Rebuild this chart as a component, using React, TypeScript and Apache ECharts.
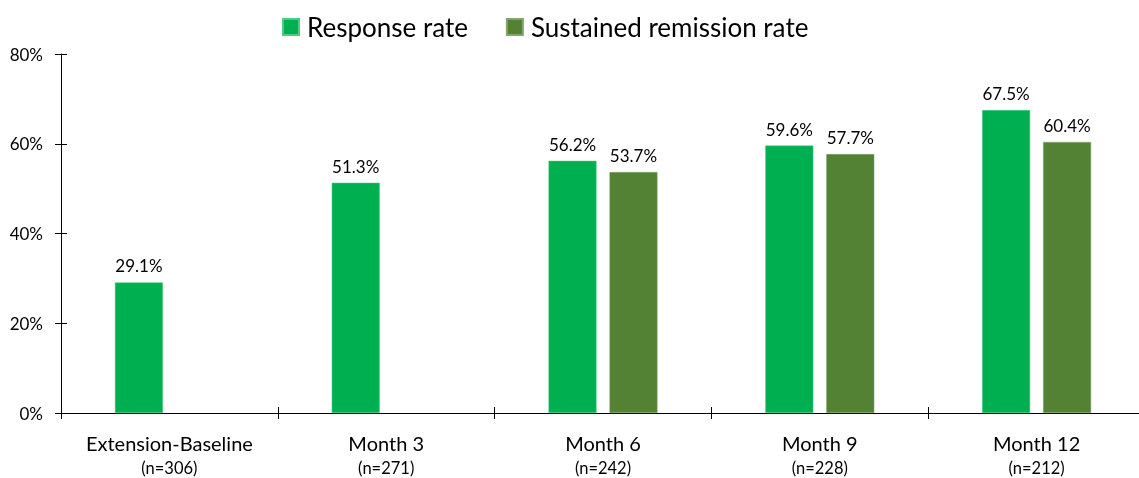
import React, { useEffect, useRef } from "react";
import * as echarts from "echarts";

// Visit time points and their sample sizes
const categories = ["Extension-Baseline", "Month 3", "Month 6", "Month 9", "Month 12"];
const sampleSizes = [306, 271, 242, 228, 212];

// Rates in percent (null where not assessed)
const responseRate = [29.1, 51.3, 56.2, 59.6, 67.5];
const sustainedRemissionRate: (number | null)[] = [null, null, 53.7, 57.7, 60.4];

const yTicks = { min: 0, max: 80, interval: 20 };

const FONT = "Lato, 'Noto Sans', sans-serif";
const GREEN = "#00B050";
const DARK_GREEN = "#548235";

export default function App() {
  const ref = useRef<HTMLDivElement>(null);

  useEffect(() => {
    if (!ref.current) return;
    const chart = echarts.init(ref.current, undefined, { renderer: "svg" });

    const axisLine = { show: true, lineStyle: { color: "#000", width: 1 } };
    const valueLabel = {
      show: true,
      position: "top" as const,
      distance: 8,
      fontSize: 17,
      fontFamily: FONT,
      color: "#000",
      formatter: (p: any) => (p.value == null ? "" : `${Number(p.value).toFixed(1)}%`),
    };

    chart.setOption({
      animation: false,
      textStyle: { fontFamily: FONT },
      legend: {
        top: 9,
        left: 277,
        itemWidth: 16,
        itemHeight: 16,
        itemGap: 38,
        icon: "rect",
        textStyle: { fontSize: 26, fontFamily: FONT, color: "#000", padding: [0, 0, 0, 3] },
        data: ["Response rate", "Sustained remission rate"],
      },
      grid: { left: 61, right: 5, top: 54, bottom: 65, containLabel: false },
      xAxis: [
        {
          type: "category",
          data: categories,
          axisLine,
          axisTick: { show: true, length: 6, lineStyle: { color: "#000" } },
          axisLabel: {
            margin: 17,
            interval: 0,
            formatter: (v: string) => {
              const i = categories.indexOf(v);
              return `{a|${v}}\n{b|(n=${sampleSizes[i]})}`;
            },
            rich: {
              a: { fontSize: 20, lineHeight: 25, fontFamily: FONT, color: "#000" },
              b: { fontSize: 16.5, lineHeight: 25, fontFamily: FONT, color: "#000" },
            },
          },
        },
        {
          type: "category",
          data: categories,
          position: "bottom",
          axisLine: { show: false },
          axisTick: { show: true, inside: true, length: 6, lineStyle: { color: "#000" } },
          axisLabel: { show: false },
        },
      ],
      yAxis: [
        {
          type: "value",
          ...yTicks,
          axisLine,
          axisTick: { show: true, length: 6, lineStyle: { color: "#000" } },
          splitLine: { show: false },
          axisLabel: {
            margin: 18,
            fontSize: 17,
            fontFamily: FONT,
            color: "#000",
            formatter: "{value}%",
          },
        },
        {
          type: "value",
          ...yTicks,
          position: "left",
          axisLine: { show: false },
          axisTick: { show: true, inside: true, length: 6, lineStyle: { color: "#000" } },
          splitLine: { show: false },
          axisLabel: { show: false },
        },
      ],
      series: [
        {
          name: "Response rate",
          type: "bar",
          data: responseRate,
          barWidth: 48,
          barGap: "27%",
          itemStyle: { color: GREEN, borderColor: "#4fcb84", borderWidth: 0.5 },
          label: valueLabel,
        },
        {
          name: "Sustained remission rate",
          type: "bar",
          data: sustainedRemissionRate,
          barWidth: 48,
          barGap: "27%",
          itemStyle: { color: DARK_GREEN, borderColor: "#84a46e", borderWidth: 0.5 },
          label: valueLabel,
        },
      ],
    });

    return () => chart.dispose();
  }, []);

  return (
    <div
      ref={ref}
      style={{ position: "fixed", left: 0, top: 0, width: 1150, height: 478 }}
    />
  );
}
